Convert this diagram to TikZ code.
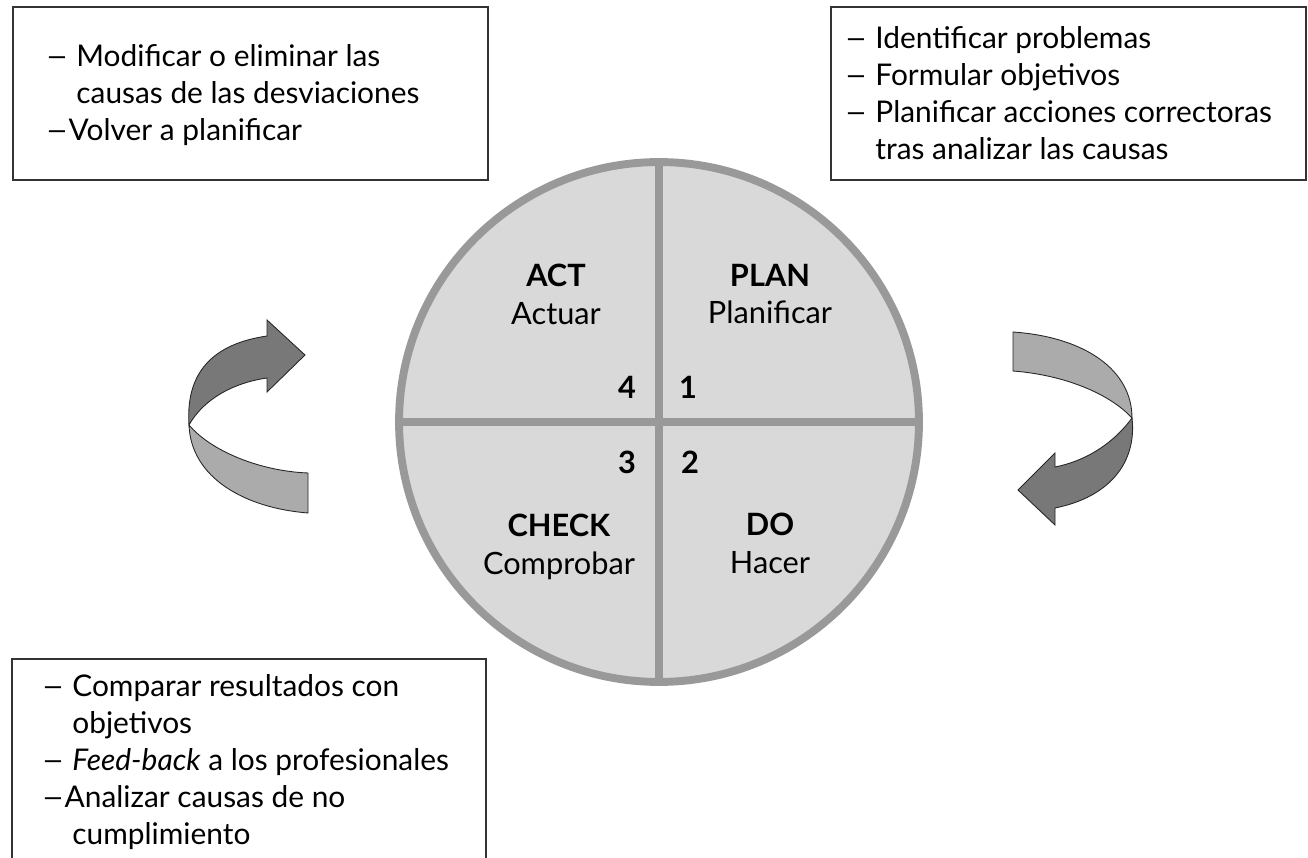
\documentclass[tikz,border=0pt]{standalone}
\usepackage{fontspec}
\setmainfont{Lato}
\newcommand\dsh{\scalebox{1.35}[1]{–}}

\begin{document}
\begin{tikzpicture}
        [x=0.02cm,y=-0.02cm,
         every node/.style={font=\fontsize{17}{21}\selectfont},
         txtbox/.style={draw=black!80,line width=1.1pt,anchor=north west,inner sep=0pt},
         items/.style={align=left,inner sep=0pt},
         quad/.style={align=center,font=\fontsize{17.5}{21.5}\selectfont},
         num/.style={font=\bfseries\fontsize{17.5}{20}\selectfont},
         ribbon/.style={draw=black!85,line width=0.5pt}]
        \useasboundingbox (0,0) rectangle (1308,858);

        % circle and quadrants
        \node (cycle) [circle,draw=black!40,fill=black!15,line width=4.5pt,minimum size=10.4cm] at (659,422) {};
        \draw [black!40,line width=4.5pt] (cycle.north) -- (cycle.south);
        \draw [black!40,line width=4.5pt] (cycle.west) -- (cycle.east);

        \node (act) [quad] at (556,294) {\textbf{ACT}\\Actuar};
        \node (plan) [quad] at (770,294) {\textbf{PLAN}\\Planificar};
        \node (check) [quad] at (559,547) {\textbf{CHECK}\\Comprobar};
        \node (do) [quad] at (770,543) {\textbf{DO}\\Hacer};

        \node (n4) [num] at (627,387) {4};
        \node (n1) [num] at (688,387) {1};
        \node (n3) [num] at (627,462) {3};
        \node (n2) [num] at (690,462) {2};

        % text boxes
        \node (actbox) [txtbox,minimum width=9.5cm,minimum height=3.46cm] at (12,6) {};
        \node (acttext) [items,anchor=west] at ([xshift=0.66cm,yshift=-0.03cm]actbox.west)
            {\dsh\ Modificar o eliminar las\\\phantom{\dsh\ }causas de las desviaciones\\\dsh Volver a planificar};
        \node (planbox) [txtbox,minimum width=9.5cm,minimum height=3.46cm] at (830,6) {};
        \node (plantext) [items,anchor=west] at ([xshift=0.28cm]planbox.west)
            {\dsh\ Identificar problemas\\\dsh\ Formular objetivos\\\dsh\ Planificar acciones correctoras\\\phantom{\dsh\ }tras analizar las causas};
        \node (checkbox) [txtbox,draw=none,minimum width=9.44cm,minimum height=4.8cm] at (12,659) {};
        \draw [black!80,line width=1.1pt] (checkbox.south west) |- (checkbox.north east) -- (checkbox.south east);
        \node (checktext) [items,anchor=north west] at ([xshift=0.58cm,yshift=-0.31cm]checkbox.north west)
            {\dsh\ Comparar resultados con\\\phantom{\dsh\ }objetivos\\\dsh\ \textit{Feed-back} a los profesionales\\\dsh Analizar causas de no\\\phantom{\dsh\ }cumplimiento};

        % left arrow
        \draw [ribbon,fill=black!33] (189,425) .. controls (210,450) and (258,471) .. (308,473)
            -- (308,513) .. controls (245,508) and (191,478) .. (189,425) -- cycle;
        \draw [ribbon,fill=black!53] (189,425) .. controls (186,380) and (205,345) .. (267,336)
            -- (267,320) -- (305,355) -- (267,392) -- (267,378)
            .. controls (232,383) and (203,400) .. (189,425) -- cycle;

        % right arrow
        \draw [ribbon,fill=black!33] (1013,332) .. controls (1085,337) and (1132,370) .. (1132,418)
            .. controls (1110,394) and (1065,375) .. (1013,371) -- cycle;
        \draw [ribbon,fill=black!53] (1132,418) .. controls (1137,462) and (1110,497) .. (1055,508)
            -- (1055,525) -- (1018,490) -- (1055,453) -- (1055,467)
            .. controls (1090,460) and (1116,440) .. (1132,418) -- cycle;
    \end{tikzpicture}
\end{document}
